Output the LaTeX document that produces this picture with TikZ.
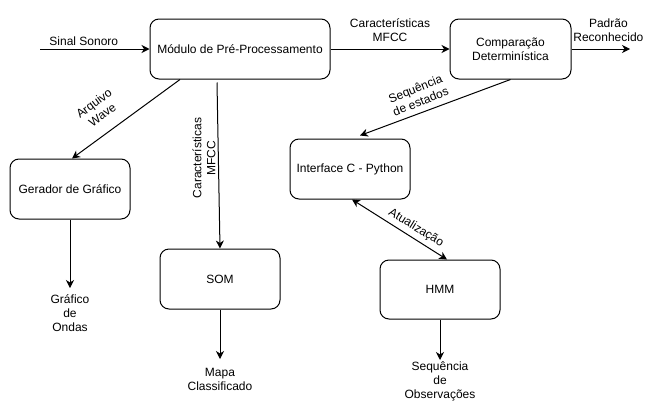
\documentclass[tikz,border=0pt]{standalone}
\usepackage{fontspec}
\setmainfont{Liberation Sans}
\usetikzlibrary{arrows.meta}

\begin{document}
\begin{tikzpicture}[x=1pt,y=-1pt,line width=1pt,
  >={Stealth[length=8pt,width=8pt,inset=2.5pt]},
  font=\fontsize{12pt}{14pt}\selectfont,
  bloco/.style={draw,rounded corners=9pt,minimum width=120pt,minimum height=60pt,align=center},
  rotulo/.style={align=center,inner sep=1pt},
  seta/.style={->}]
\useasboundingbox (0,0) rectangle (653,410);
\node[bloco,minimum width=180pt] (mod) at (240,49) {Módulo de Pré-Processamento};
\node[bloco,minimum width=121pt] (comp) at (510.5,49) {Comparação\\Determinística};
\node[bloco] (ger) at (70,189) {Gerador de Gráfico};
\node[bloco] (som) at (220,279) {SOM};
\node[bloco] (intf) at (350,169) {Interface C - Python};
\node[bloco,minimum height=59pt] (hmm) at (440,289.5) {HMM};
\coordinate (sinal) at (40,49);
\coordinate (padrao) at (630,49);
\node[rotulo,inner ysep=6pt,anchor=north] (ondas) at (70,288) {Gráfico\\de\\Ondas};
\node[rotulo,inner ysep=9pt,anchor=north] (mapa) at (220,359) {Mapa\\Classificado};
\node[rotulo,inner ysep=1pt,anchor=north] (obs) at (440,360) {Sequência\\de\\Observações};
\node[rotulo,rotate=36.5] (larq) at (98,109) {Arquivo\\Wave};
\node[rotulo,rotate=90] (lmfcc) at (204,158) {Características\\MFCC};
\node[rotulo,rotate=21.8] (lseq) at (418,95) {Sequência\\de estados};
\node[rotulo,rotate=-31.4] (latu) at (416,228) {Atualização};
\draw[seta] (sinal) -- node[above,pos=0.4] (lsinal) {Sinal Sonoro} (mod);
\draw[seta] (mod) -- node[above=4pt,align=center] (lcar) {Características\\MFCC} (comp);
\draw[seta] (comp) -- node[above=4pt,pos=0.63,align=center] (lpadrao) {Padrão\\Reconhecido} (padrao);
\draw[seta] ([xshift=-60pt]mod.south) -- ([xshift=2pt]ger.north);
\draw[seta] ([xshift=-23pt,yshift=-3pt]mod.south) -- (som.north);
\draw[seta] (comp.south) -- ([xshift=10pt,yshift=3pt]intf.north);
\draw[<->] ([xshift=2pt]intf.south) -- ([xshift=7pt]hmm.north);
\draw[seta] (ger) -- (ondas);
\draw[seta] (som) -- (mapa);
\draw[seta] (hmm) -- (obs);
\end{tikzpicture}
\end{document}
